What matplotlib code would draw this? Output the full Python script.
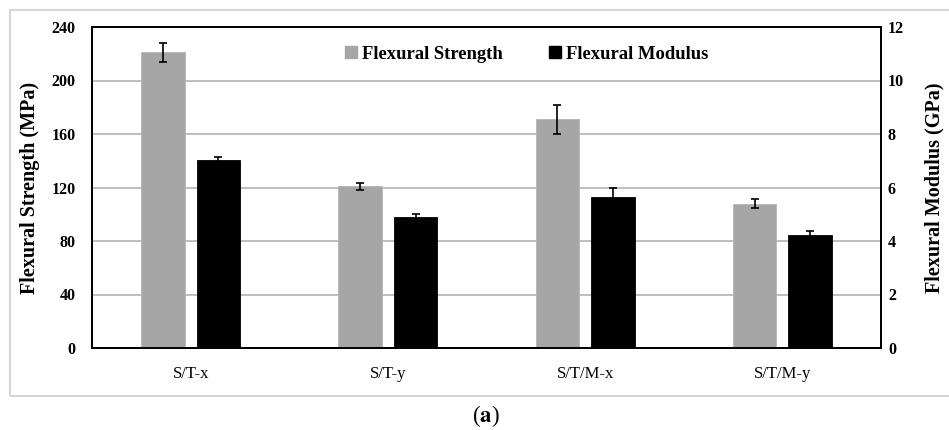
import matplotlib
matplotlib.use("Agg")
import matplotlib.pyplot as plt
import numpy as np
from matplotlib.patches import Rectangle
from matplotlib.lines import Line2D

# Flexural test results per sample group
categories = ["S/T-x", "S/T-y", "S/T/M-x", "S/T/M-y"]
strength_mpa = [221, 121, 171, 108]
strength_err = [7, 2.7, 11, 3.2]
modulus_gpa = [7.04, 4.91, 5.65, 4.23]
modulus_err = [0.1, 0.09, 0.32, 0.13]
left_ticks = [0, 40, 80, 120, 160, 200, 240]
right_ticks = [0, 2, 4, 6, 8, 10, 12]

W, H = 949, 430
fig = plt.figure(figsize=(W / 100, H / 100), dpi=100)
serif = "Liberation Serif"

# light frame around the chart area
fig.patches.append(Rectangle((10 / W, 1 - 396 / H), 950 / W, 386 / H,
                             transform=fig.transFigure, fill=False,
                             edgecolor="#d6d6d6", linewidth=1.5))

ax = fig.add_axes([92 / W, 1 - 348 / H, (881 - 92) / W, (348 - 27) / H])
ax2 = ax.twinx()

x = np.arange(len(categories))
bw = 0.22
off = 0.141
ebar = dict(ecolor="black", elinewidth=1.2, capsize=3, capthick=1.2)

ax.bar(x - off, strength_mpa, bw, yerr=strength_err, color="#a6a6a6",
       edgecolor="#b5b5b5", linewidth=0.6, error_kw=ebar, zorder=3)
ax2.bar(x + off, modulus_gpa, bw, yerr=modulus_err, color="black",
        edgecolor="black", linewidth=0.6, error_kw=ebar, zorder=3)

ax.set_xlim(-0.5, len(categories) - 0.5)
ax.set_ylim(0, 240)
ax2.set_ylim(0, 12)
ax.set_yticks(left_ticks)
ax2.set_yticks(right_ticks)
ax.set_xticks(x)
ax.set_xticklabels(categories, fontfamily=serif, fontsize=12)
ax.tick_params(axis="x", length=0, pad=13)
ax.tick_params(axis="y", length=0, pad=12)
ax2.tick_params(axis="y", length=0, pad=5)
for lab in ax.get_yticklabels() + ax2.get_yticklabels():
    lab.set_fontfamily(serif)
    lab.set_fontweight("bold")
    lab.set_fontsize(11.5)

ax.yaxis.grid(True, color="#b3b3b3", linewidth=1.2)
ax.set_axisbelow(True)
for a in (ax, ax2):
    for s in a.spines.values():
        s.set_color("black")
        s.set_linewidth(1.4)
ax.spines["bottom"].set_color("#555555")

ax.set_ylabel("Flexural Strength (MPa)", fontfamily=serif, fontweight="bold",
              fontsize=14.5, labelpad=8)
ax2.set_ylabel("Flexural Modulus (GPa)", fontfamily=serif, fontweight="bold",
               fontsize=14.5, labelpad=15)

handles = [Line2D([], [], marker="s", linestyle="none", markersize=8,
                  markerfacecolor="#a6a6a6", markeredgecolor="#a6a6a6"),
           Line2D([], [], marker="s", linestyle="none", markersize=8,
                  markerfacecolor="black", markeredgecolor="black")]
ax.legend(handles, ["Flexural Strength", "Flexural Modulus"], ncol=2,
          frameon=False, loc="center left",
          bbox_to_anchor=((327 - 92) / (881 - 92), (348 - 54) / (348 - 27)),
          handlelength=0.8, handletextpad=0.2, columnspacing=2.4,
          prop=dict(family=serif, weight="bold", size=13.4))

fig.text(486 / W, 1 - 416 / H, r"($\mathbf{a}$)", ha="center", va="center",
         fontfamily=serif, fontsize=16.5, math_fontfamily="stix")

fig.savefig("out.png", dpi=100)
